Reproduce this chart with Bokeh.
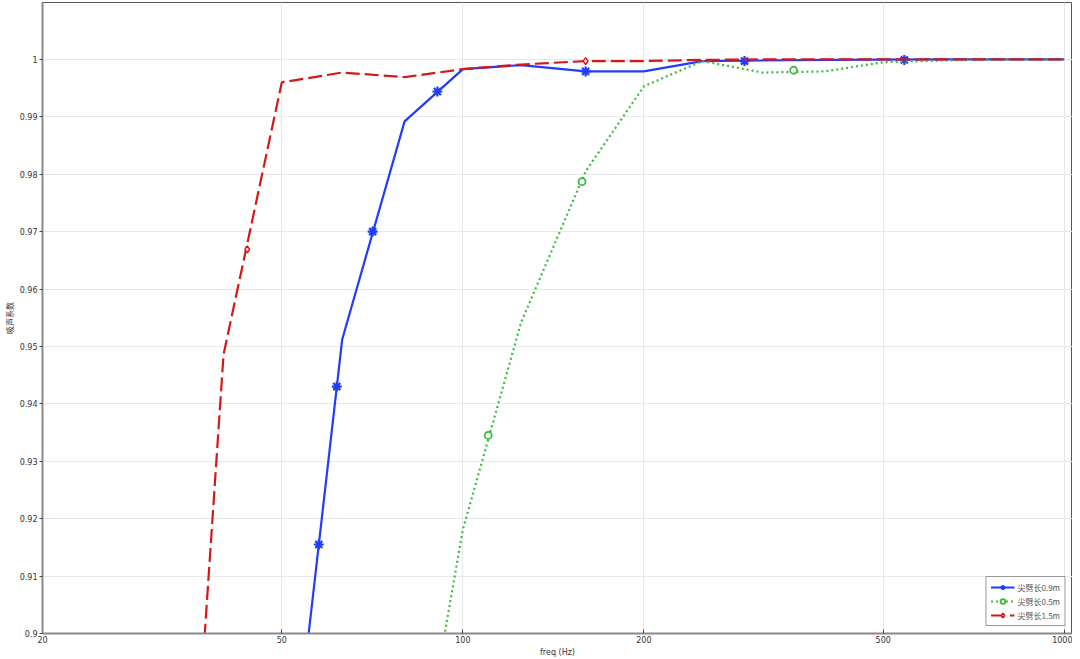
from bokeh.plotting import figure
from bokeh.models import Range1d, FixedTicker, Legend, LegendItem
from bokeh.embed import file_html
from bokeh.resources import INLINE

# ---- data ----
freq_09 = [50, 63, 80, 100, 125, 160, 200, 250, 315, 400, 500, 630, 800, 1000]
val_09 = [0.859, 0.9512, 0.9892, 0.9983, 0.9990, 0.9979, 0.9979, 0.9997, 0.9998, 0.9999, 0.99995, 1.0, 1.0, 1.0]
mk_freq_09 = [57.6, 61.7, 70.8, 90.7, 160, 294, 542]
mk_val_09 = [0.9155, 0.9430, 0.9700, 0.9944, 0.9979, 0.9997, 0.9999]

freq_05 = [80, 100, 125, 160, 200, 250, 315, 400, 500, 630, 800, 1000]
val_05 = [0.860, 0.9181, 0.9542, 0.9805, 0.9953, 0.9997, 0.9977, 0.9979, 0.9995, 0.9998, 1.0, 1.0]
mk_freq_05 = [110.2, 157.8, 354.8]
mk_val_05 = [0.9345, 0.9787, 0.9981]

freq_15 = [31.5, 40, 50, 63, 80, 100, 125, 160, 200, 250, 315, 400, 500, 630, 800, 1000]
val_15 = [0.787, 0.9486, 0.9960, 0.9977, 0.9969, 0.9983, 0.9991, 0.9997, 0.9997, 0.9999, 1.0, 1.0, 1.0, 1.0, 1.0, 1.0]
mk_freq_15 = [43.8, 160]
mk_val_15 = [0.9669, 0.9997]

labels = ["尖劈长0.9m", "尖劈长0.5m", "尖劈长1.5m"]
x_ticks = [20, 50, 100, 200, 500, 1000]
x_tick_labels = ["20", "50", "100", "200", "500", "1000"]
y_ticks = [0.9, 0.91, 0.92, 0.93, 0.94, 0.95, 0.96, 0.97, 0.98, 0.99, 1.0]
y_tick_labels = ["0.9", "0.91", "0.92", "0.93", "0.94", "0.95", "0.96", "0.97", "0.98", "0.99", "1"]

FONT = "DejaVu Sans"
BLUE = "#1f3cff"
GREEN = "#3cbb3c"
RED = "#d41818"

p = figure(width=1072, height=659, x_axis_type="log",
           x_range=Range1d(20, 1032), y_range=Range1d(0.9, 1.0099),
           output_backend="svg", toolbar_location=None,
           min_border_left=34, min_border_right=0, min_border_top=2, min_border_bottom=0)
p.background_fill_color = "white"
p.outline_line_color = "#555555"
p.outline_line_width = 1

# axes
p.xaxis.ticker = FixedTicker(ticks=x_ticks)
p.xaxis.major_label_overrides = {t: l for t, l in zip(x_ticks, x_tick_labels)}
p.yaxis.ticker = FixedTicker(ticks=y_ticks)
p.yaxis.major_label_overrides = {t: l for t, l in zip(y_ticks, y_tick_labels)}
p.xaxis.minor_tick_line_color = None
p.yaxis.minor_tick_line_color = None
p.xaxis.axis_label = "freq (Hz)"
p.yaxis.axis_label = "吸声系数"
for ax in (p.xaxis, p.yaxis):
    ax.axis_line_color = "#8a8a8a"
    ax.axis_line_width = 2
    ax.major_tick_line_color = "#444444"
    ax.major_label_text_font = FONT
    ax.major_label_text_font_size = "8px"
    ax.major_label_text_color = "#333333"
    ax.axis_label_text_font_size = "8px"
    ax.axis_label_text_font_style = "normal"
    ax.axis_label_text_color = "#333333"
    ax.major_label_standoff = 2
    ax.axis_label_standoff = 2
p.xaxis.axis_label_text_font = FONT
p.yaxis.axis_label_text_font = "Noto Sans CJK SC"
p.xaxis.major_tick_in = 4
p.xaxis.major_tick_out = 0
p.yaxis.major_tick_in = 0
p.yaxis.major_tick_out = 3

p.xgrid.grid_line_color = "#e8e8e8"
p.ygrid.grid_line_color = "#e8e8e8"
p.xgrid.grid_line_width = 1
p.ygrid.grid_line_width = 1

# series
l09 = p.line(freq_09, val_09, line_color=BLUE, line_width=2.2)
m09 = p.scatter(mk_freq_09, mk_val_09, marker="asterisk", size=10, line_color=BLUE, line_width=2.2)

l05 = p.line(freq_05, val_05, line_color=GREEN, line_width=2.2, line_dash="2 3")
m05 = p.scatter(mk_freq_05, mk_val_05, marker="circle", size=7, line_color=GREEN, line_width=1.8,
                fill_color="white")

l15 = p.line(freq_15, val_15, line_color=RED, line_width=2.2, line_dash="14 5")
m15 = p.scatter(mk_freq_15, mk_val_15, marker="diamond", size=7, line_color=RED, line_width=1.5,
                fill_color="white")

legend = Legend(items=[
    LegendItem(label=labels[0], renderers=[l09, m09]),
    LegendItem(label=labels[1], renderers=[l05, m05]),
    LegendItem(label=labels[2], renderers=[l15, m15]),
], location="bottom_right")
legend.label_text_font = "Noto Sans CJK SC"
legend.label_text_font_size = "8px"
legend.label_text_color = "#555555"
legend.glyph_width = 24
legend.glyph_height = 12
legend.label_height = 12
legend.label_standoff = 3
legend.spacing = 2
legend.padding = 4
legend.margin = 7
legend.border_line_color = "#333333"
legend.border_line_width = 1.5
legend.background_fill_color = "white"
legend.background_fill_alpha = 1
p.add_layout(legend)

open("out.html", "w").write(file_html(p, INLINE))
